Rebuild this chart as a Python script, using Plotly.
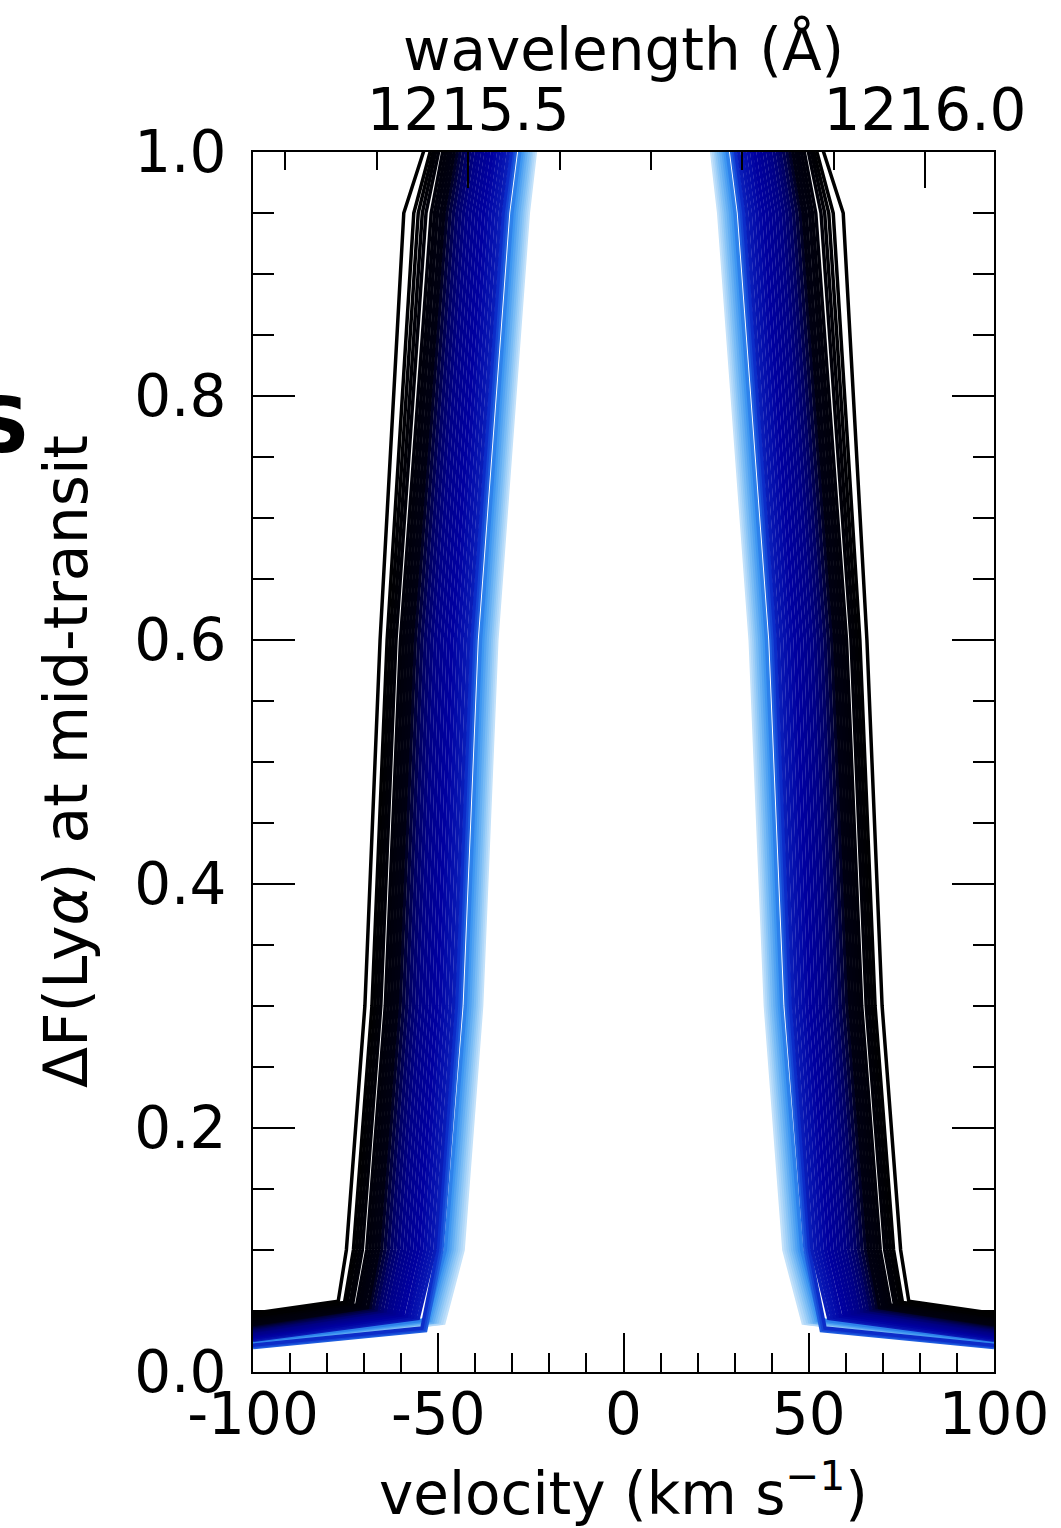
import plotly.graph_objects as go
from plotly.colors import sample_colorscale

# ---------------- data ----------------
# Each absorption profile is described, from the innermost (light blue) to the
# outermost (black), by the flux level at |v| = 100 km/s, the knee of the wing,
# and the |velocity| (km/s) at which it crosses fixed flux levels.
LEVELS = [0.1, 0.3, 0.6, 0.95, 1.0]

EDGE_LEVEL = [0.022, 0.022, 0.023, 0.022, 0.023, 0.024, 0.023, 0.024, 0.025,
              0.020, 0.021, 0.022,
              0.026, 0.027, 0.027, 0.028, 0.028, 0.029, 0.030, 0.030, 0.031, 0.031,
              0.032, 0.033, 0.034, 0.035, 0.036, 0.037,
              0.038, 0.039, 0.040, 0.041, 0.042, 0.043, 0.044, 0.045, 0.046, 0.046, 0.048]

KNEE_V = [48.5, 49.1, 49.7, 50.3, 50.9, 51.5, 52.0, 52.5, 53.0,
          53.4, 53.9, 54.4,
          55.4, 56.2, 57.0, 57.8, 58.6, 59.5, 60.3, 61.1, 61.9, 62.7,
          63.5, 64.3, 65.2, 66.0, 66.8, 67.6,
          68.4, 69.1, 69.9, 70.6, 71.3, 72.0, 73.1, 73.8, 74.6, 75.3, 77.0]

KNEE_LEVEL = [0.040, 0.040, 0.041, 0.041, 0.041, 0.041, 0.042, 0.042, 0.043,
              0.034, 0.035, 0.036,
              0.044, 0.045, 0.045, 0.046, 0.046, 0.047, 0.047, 0.048, 0.048, 0.049,
              0.049, 0.050, 0.050, 0.051, 0.051, 0.052,
              0.053, 0.053, 0.054, 0.054, 0.054, 0.055, 0.056, 0.056, 0.057, 0.057, 0.058]

V_AT_010 = [43.3, 43.9, 44.5, 45.1, 45.7, 46.3, 46.9, 47.5, 48.1,
            49.0, 49.6, 50.2,
            50.9, 51.8, 52.7, 53.6, 54.5, 55.4, 56.3, 57.2, 58.1, 59.0,
            59.9, 60.8, 61.7, 62.6, 63.5, 64.4,
            65.3, 66.1, 66.9, 67.7, 68.5, 69.3, 70.5, 71.3, 72.1, 72.9, 74.8]

V_AT_030 = [38.3, 38.8, 39.3, 39.8, 40.3, 40.9, 41.5, 42.1, 42.7,
            43.9, 44.5, 45.1,
            45.9, 46.8, 47.7, 48.6, 49.5, 50.4, 51.3, 52.2, 53.1, 54.0,
            54.9, 55.8, 56.7, 57.6, 58.5, 59.4,
            60.3, 61.1, 61.9, 62.7, 63.5, 64.3, 65.5, 66.3, 67.1, 67.9, 69.8]

V_AT_060 = [34.2, 34.7, 35.2, 35.7, 36.2, 36.8, 37.4, 38.0, 38.6,
            39.8, 40.4, 41.0,
            41.8, 42.7, 43.6, 44.5, 45.4, 46.3, 47.2, 48.1, 49.0, 49.9,
            50.8, 51.7, 52.6, 53.5, 54.4, 55.3,
            56.2, 57.0, 57.8, 58.6, 59.4, 60.2, 61.4, 62.2, 63.0, 63.8, 65.7]

V_AT_095 = [25.7, 26.2, 26.7, 27.2, 27.7, 28.3, 28.9, 29.5, 30.1,
            31.3, 31.9, 32.5,
            33.3, 34.2, 35.1, 36.0, 36.9, 37.8, 38.7, 39.6, 40.5, 41.4,
            42.3, 43.2, 44.1, 45.0, 45.9, 46.8,
            47.7, 48.5, 49.3, 50.2, 51.0, 51.9, 53.3, 54.3, 55.4, 56.6, 59.3]

V_AT_100 = [23.8, 24.3, 24.8, 25.2, 25.7, 26.3, 26.9, 27.4, 28.0,
            29.2, 29.8, 30.3,
            31.1, 32.0, 32.8, 33.7, 34.6, 35.4, 36.3, 37.1, 38.0, 38.9,
            39.7, 40.6, 41.5, 42.3, 43.2, 44.1,
            44.9, 45.7, 46.5, 47.2, 48.0, 48.8, 49.9, 50.7, 51.4, 52.2, 54.0]

CENTER_LEVEL = 1.5          # line-core value (off the top of the frame)
V_EDGE = 100.0              # km/s, edge of the velocity grid

X_TICKS = [-100, -50, 0, 50, 100]
X_TICK_TEXT = ["-100", "-50", "0", "50", "100"]
Y_TICKS = [0.0, 0.2, 0.4, 0.6, 0.8, 1.0]
Y_TICK_TEXT = ["0.0", "0.2", "0.4", "0.6", "0.8", "1.0"]
WL_TICKS = [1215.5, 1216.0]
WL_TICK_TEXT = ["1215.5", "1216.0"]
LAMBDA0 = 1215.67           # Angstrom, Ly-alpha rest wavelength
C_KMS = 299792.458

# ---------------- styling ----------------
FONT = "DejaVu Sans"
FS = 58
COLOR_STOPS = [
    [0.00, "#c4e2fa"],
    [0.10, "#7cbdf5"],
    [0.20, "#3390f0"],
    [0.235, "#1f5fe0"],
    [0.29, "#0c2cc8"],
    [0.32, "#0818b4"],
    [0.45, "#0000a0"],
    [0.58, "#000088"],
    [0.66, "#000066"],
    [0.72, "#000038"],
    [0.76, "#000012"],
    [1.00, "#000000"],
]

n = len(KNEE_V)
colors = sample_colorscale(COLOR_STOPS, [i / (n - 1) for i in range(n)])

fig = go.Figure()
for i in range(n):
    left_v = [-V_EDGE, -KNEE_V[i], -V_AT_010[i], -V_AT_030[i], -V_AT_060[i],
              -V_AT_095[i], -V_AT_100[i]]
    left_f = [EDGE_LEVEL[i], KNEE_LEVEL[i]] + LEVELS
    xs = left_v + [0.0] + [-v for v in reversed(left_v)]
    ys = left_f + [CENTER_LEVEL] + list(reversed(left_f))
    fig.add_trace(go.Scatter(x=xs, y=ys, mode="lines",
                             line=dict(color=colors[i], width=3.5),
                             showlegend=False, hoverinfo="skip"))

wl_lo = LAMBDA0 * (1 - V_EDGE / C_KMS)
wl_hi = LAMBDA0 * (1 + V_EDGE / C_KMS)
fig.add_trace(go.Scatter(x=[wl_lo, wl_hi], y=[None, None], xaxis="x2",
                         mode="lines", showlegend=False, hoverinfo="skip"))

axis_common = dict(showline=True, linecolor="black", linewidth=2,
                   ticks="inside", tickcolor="black", tickwidth=2,
                   showgrid=False, zeroline=False,
                   tickfont=dict(family=FONT, size=FS, color="black"))

fig.update_layout(
    width=1061, height=1528,
    margin=dict(l=253, r=63, t=152, b=156),
    paper_bgcolor="white", plot_bgcolor="white",
    xaxis=dict(range=[-V_EDGE, V_EDGE], tickvals=X_TICKS, ticktext=X_TICK_TEXT,
               ticklen=39, ticklabelstandoff=-10,
               minor=dict(ticks="inside", dtick=10, ticklen=19, tickwidth=2,
                          tickcolor="black"),
               **axis_common),
    xaxis2=dict(overlaying="x", side="top", anchor="y",
                range=[wl_lo, wl_hi], tickvals=WL_TICKS, ticktext=WL_TICK_TEXT,
                ticklen=36, ticklabelstandoff=-3,
                minor=dict(ticks="inside", tick0=1215.0, dtick=0.1, ticklen=18,
                           tickwidth=2, tickcolor="black"),
                **axis_common),
    yaxis=dict(range=[0, 1], tickvals=Y_TICKS, ticktext=Y_TICK_TEXT,
               ticklen=42, mirror="ticks", ticklabelstandoff=13,
               minor=dict(ticks="inside", dtick=0.05, ticklen=21, tickwidth=2,
                          tickcolor="black"),
               **axis_common),
    annotations=[
        dict(text="velocity (km s<sup>\u22121</sup>)", xref="paper", yref="paper",
             x=0.5, y=0, yshift=-118, showarrow=False, xanchor="center",
             yanchor="middle", font=dict(family=FONT, size=FS, color="black")),
        dict(text="wavelength (\u00c5)", xref="paper", yref="paper",
             x=0.5, y=1, yshift=103, showarrow=False, xanchor="center",
             yanchor="middle", font=dict(family=FONT, size=FS, color="black")),
        dict(text="\u0394F(Ly<i>\u03b1</i>) at mid-transit", xref="paper", yref="paper",
             x=0, y=0.5, xshift=-187, showarrow=False, xanchor="center",
             yanchor="middle", textangle=-90,
             font=dict(family=FONT, size=60, color="black")),
        dict(text="<b>S</b>", xref="paper", yref="paper",
             x=-0.338, y=0.776, showarrow=False, xanchor="center",
             yanchor="middle", font=dict(family=FONT, size=76, color="black")),
    ],
)

fig.write_html("out.html")
